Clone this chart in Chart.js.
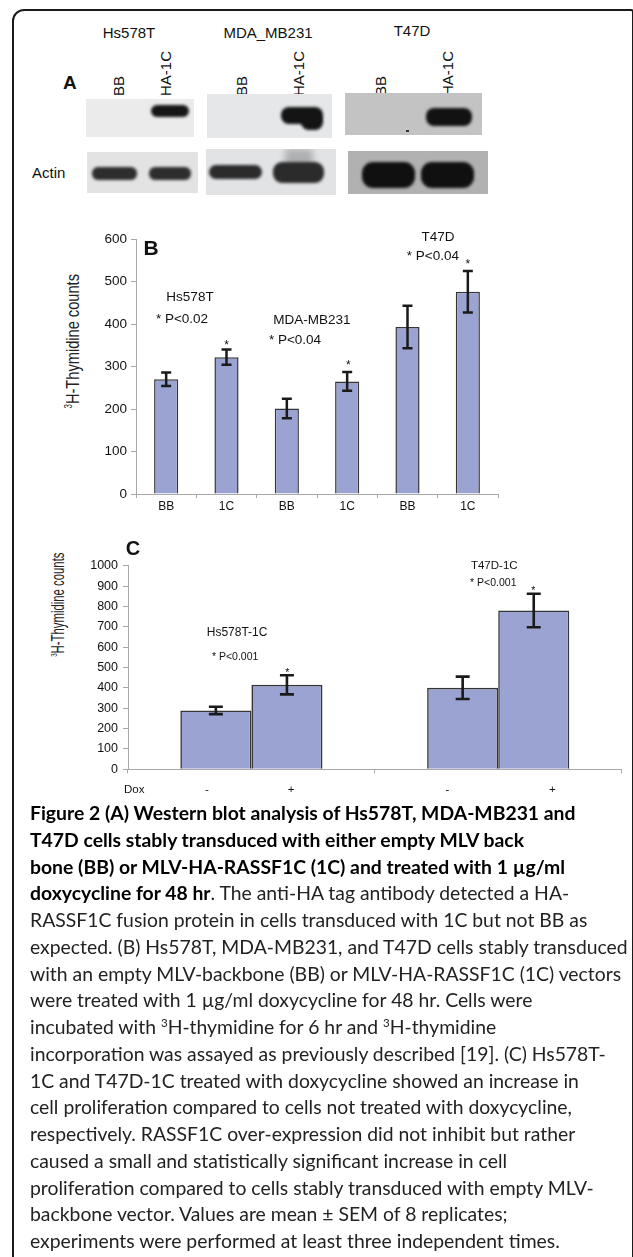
<!DOCTYPE html>
<html><head><meta charset="utf-8">
<script src="https://cdn.jsdelivr.net/npm/chart.js@4.4.0/dist/chart.umd.min.js"></script>
<style>
html,body{margin:0;padding:0;background:#fff;}
body{width:633px;height:1257px;position:relative;overflow:hidden;font-family:"Liberation Sans",Arial,sans-serif;color:#111;}
#frame{position:absolute;left:12px;top:9px;width:622px;height:1320px;border:2px solid #1a1a1a;border-top-left-radius:12px;border-top-right-radius:3px;box-sizing:border-box;}
.lbl{position:absolute;font-size:15px;line-height:18px;white-space:nowrap;text-align:center;width:200px;}
.rot{position:absolute;font-size:15px;line-height:16px;height:16px;transform-origin:0 0;transform:rotate(-90deg);white-space:nowrap;}
.blot{position:absolute;overflow:hidden;}
.band{position:absolute;filter:blur(1.6px);}
.ytitle{position:absolute;width:220px;text-align:center;transform-origin:0 0;white-space:nowrap;font-family:"Liberation Sans",Arial,sans-serif;color:#222;}
.ytitle sup{font-size:55%;vertical-align:super;line-height:0;}
canvas{position:absolute;left:0;}
#caption{position:absolute;left:30px;top:800px;font-family:"Lato",sans-serif;color:#222;}
#caption div{white-space:nowrap;height:26.75px;line-height:26.75px;}
#caption b{color:#000;}
#caption sup{font-size:60%;line-height:0;vertical-align:super;}
</style>
</head><body>
<div id="frame"></div>

<!-- Panel A: western blots -->
<div class="lbl" style="left:29px;top:24px;">Hs578T</div>
<div class="lbl" style="left:168px;top:24px;">MDA_MB231</div>
<div class="lbl" style="left:312px;top:22px;">T47D</div>
<div style="position:absolute;left:63px;top:72px;font-size:19px;font-weight:bold;">A</div>
<div class="rot" style="left:111px;top:96px;">BB</div>
<div class="rot" style="left:158px;top:96px;">HA-1C</div>
<div class="rot" style="left:234px;top:96px;">BB</div>
<div class="rot" style="left:291px;top:96px;">HA-1C</div>
<div class="rot" style="left:373px;top:96px;">BB</div>
<div class="rot" style="left:440px;top:96px;">HA-1C</div>
<div style="position:absolute;left:32px;top:164px;font-size:15px;line-height:18px;">Actin</div>

<div class="blot" style="left:86px;top:99px;width:108px;height:38px;background:#ebebeb;">
  <div class="band" style="left:65px;top:6px;width:38px;height:12px;background:#151515;border-radius:6px;"></div>
</div>
<div class="blot" style="left:207px;top:94px;width:125px;height:44px;background:#e5e7e9;">
  <div class="band" style="left:74px;top:13px;width:42px;height:17px;background:#141414;border-radius:8px;"></div>
  <div class="band" style="left:94px;top:20px;width:22px;height:16px;background:#141414;border-radius:8px;"></div>
</div>
<div class="blot" style="left:345px;top:93px;width:137px;height:42px;background:#c3c3c3;">
  <div class="band" style="left:81px;top:15px;width:46px;height:18px;background:#121212;border-radius:8px;"></div>
  <div class="band" style="left:61px;top:37px;width:3px;height:2px;background:#333;filter:none;"></div>
</div>
<div class="blot" style="left:87px;top:152px;width:111px;height:41px;background:#e3e3e3;">
  <div class="band" style="left:5px;top:15px;width:45px;height:13px;background:#2d2d2d;border-radius:6px;"></div>
  <div class="band" style="left:62px;top:15px;width:42px;height:13px;background:#2d2d2d;border-radius:6px;"></div>
</div>
<div class="blot" style="left:206px;top:149px;width:130px;height:46px;background:#e1e3e5;">
  <div class="band" style="left:79px;top:0px;width:28px;height:18px;background:rgba(60,60,60,0.3);filter:blur(3px);"></div>
  <div class="band" style="left:3px;top:16px;width:53px;height:14px;background:#2b2b2b;border-radius:7px;"></div>
  <div class="band" style="left:67px;top:13px;width:51px;height:21px;background:#2b2b2b;border-radius:9px;"></div>
</div>
<div class="blot" style="left:348px;top:151px;width:140px;height:43px;background:#b1b1b1;">
  <div class="band" style="left:14px;top:11px;width:53px;height:26px;background:#101010;border-radius:11px;"></div>
  <div class="band" style="left:73px;top:11px;width:53px;height:26px;background:#101010;border-radius:11px;"></div>
</div>

<!-- Y axis titles -->
<div class="ytitle" style="left:63px;top:426px;font-size:19px;line-height:19px;height:19px;transform:rotate(-90deg) scaleX(0.77);"><sup>3</sup>H-Thymidine counts</div>
<div class="ytitle" style="left:48.7px;top:674px;font-size:18px;line-height:18px;height:18px;transform:rotate(-90deg) scaleX(0.63);"><sup>3</sup>H-Thymidine counts</div>

<canvas id="chartB" width="633" height="300" style="top:220px;width:633px;height:300px;"></canvas>
<canvas id="chartC" width="633" height="270" style="top:535px;width:633px;height:270px;"></canvas>

<div id="caption">
<div><b>Figure 2 (A) Western blot analysis of Hs578T, MDA-MB231 and</b></div>
<div><b>T47D cells stably transduced with either empty MLV back</b></div>
<div><b>bone (BB) or MLV-HA-RASSF1C (1C) and treated with 1 µg/ml</b></div>
<div><b>doxycycline for 48 hr</b>. The anti-HA tag antibody detected a HA-</div>
<div>RASSF1C fusion protein in cells transduced with 1C but not BB as</div>
<div><span id="fitline">expected. (B) Hs578T, MDA-MB231, and T47D cells stably transduced</span></div>
<div>with an empty MLV-backbone (BB) or MLV-HA-RASSF1C (1C) vectors</div>
<div>were treated with 1 µg/ml doxycycline for 48 hr. Cells were</div>
<div>incubated with <sup>3</sup>H-thymidine for 6 hr and <sup>3</sup>H-thymidine</div>
<div>incorporation was assayed as previously described [19]. (C) Hs578T-</div>
<div>1C and T47D-1C treated with doxycycline showed an increase in</div>
<div>cell proliferation compared to cells not treated with doxycycline,</div>
<div>respectively. RASSF1C over-expression did not inhibit but rather</div>
<div>caused a small and statistically significant increase in cell</div>
<div>proliferation compared to cells stably transduced with empty MLV-</div>
<div>backbone vector. Values are mean ± SEM of 8 replicates;</div>
<div>experiments were performed at least three independent times.</div>
</div>

<script>
// ---------- DATA ----------
// Panel B
const bCategories = ['BB', '1C', 'BB', '1C', 'BB', '1C'];
const bValues = [270, 322, 201, 265, 393, 476];
const bErrors = [16, 18, 23, 22, 50, 49];
const bYTicks = [0, 100, 200, 300, 400, 500, 600];
// Panel C
const cGroups = ['Hs578T-1C', 'T47D-1C'];
const cNoDox = [289, 400];
const cNoDoxErr = [18, 55];
const cDox = [415, 780];
const cDoxErr = [47, 82];
const cYTicks = [0, 100, 200, 300, 400, 500, 600, 700, 800, 900, 1000];
const doxLabels = ['-', '+', '-', '+'];

// ---------- label placement (category index / axis value) ----------
const doxLabelAt = [-0.18, 0.161, 0.794, 1.219];
const FONT = '"Liberation Sans", Arial, sans-serif';

// caption sizing
(function(){
  const cap = document.getElementById('caption');
  cap.style.fontSize = '16px';
  const w = document.getElementById('fitline').getBoundingClientRect().width;
  cap.style.fontSize = (16 * 598 / w).toFixed(2) + 'px';
})();

const errPlugin = {
  id: 'errbars',
  afterDatasetsDraw(chart, args, opts) {
    const ctx = chart.ctx, ys = chart.scales.y;
    ctx.save();
    ctx.strokeStyle = '#1a1a1a';
    ctx.lineWidth = opts.width;
    chart.data.datasets.forEach((ds, di) => {
      const meta = chart.getDatasetMeta(di);
      meta.data.forEach((bar, i) => {
        const v = ds.data[i], e = ds.errors[i];
        const yt = ys.getPixelForValue(v + e), yb = ys.getPixelForValue(v - e);
        ctx.beginPath();
        ctx.moveTo(bar.x, yt); ctx.lineTo(bar.x, yb);
        ctx.moveTo(bar.x - opts.cap, yt); ctx.lineTo(bar.x + opts.cap, yt);
        ctx.moveTo(bar.x - opts.cap, yb); ctx.lineTo(bar.x + opts.cap, yb);
        ctx.stroke();
      });
    });
    ctx.restore();
  }
};

const annotPlugin = {
  id: 'annot',
  afterDraw(chart, args, opts) {
    const ctx = chart.ctx, xs = chart.scales.x, ys = chart.scales.y;
    ctx.save();
    const items = opts.items || [];
    for (let k = 0; k < items.length; k++) {
      const it = items[k];
      ctx.font = it.font;
      ctx.fillStyle = it.color || '#111';
      ctx.textAlign = it.align || 'center';
      ctx.textBaseline = 'middle';
      const px = xs.getPixelForValue(it.x);
      const py = (it.below !== undefined) ? chart.chartArea.bottom + it.below : ys.getPixelForValue(it.y);
      ctx.fillText(it.text, px, py);
    }
    ctx.restore();
  }
};

const axisGray = '#a8a8a8';
const barFill = '#9ba3d3';
const barEdge = '#363636';

// ---------- Chart B ----------
new Chart(document.getElementById('chartB'), {
  type: 'bar',
  data: {
    labels: bCategories,
    datasets: [{
      data: bValues, errors: bErrors,
      backgroundColor: barFill, borderColor: barEdge, borderWidth: 1.5,
      barPercentage: 0.4, categoryPercentage: 1
    }]
  },
  options: {
    responsive: false, animation: false, devicePixelRatio: 1,
    layout: { padding: { top: 19, right: 135, left: 0, bottom: 0 } },
    plugins: {
      legend: { display: false }, tooltip: { enabled: false },
      errbars: { width: 2.5, cap: 5 },
      annot: { items: [
        { text: 'B', x: -0.25, y: 575, font: 'bold 21px ' + FONT, color: '#111' },
        { text: 'Hs578T', x: 0.395, y: 463, font: '13.5px ' + FONT },
        { text: '* P<0.02', x: 0.262, y: 412, font: '13.5px ' + FONT },
        { text: '*', x: 1, y: 350, font: '12px ' + FONT },
        { text: 'MDA-MB231', x: 2.417, y: 409, font: '13.5px ' + FONT },
        { text: '* P<0.04', x: 2.136, y: 362, font: '13.5px ' + FONT },
        { text: '*', x: 3.02, y: 301, font: '12px ' + FONT },
        { text: 'T47D', x: 4.506, y: 605, font: '13.5px ' + FONT },
        { text: '* P<0.04', x: 4.42, y: 560, font: '13.5px ' + FONT },
        { text: '*', x: 5, y: 539, font: '12px ' + FONT }
      ] }
    },
    scales: {
      x: {
        grid: { display: true, drawOnChartArea: false, drawTicks: true, tickLength: 4, color: axisGray, offset: true },
        border: { display: true, color: axisGray, width: 1 },
        ticks: { color: '#111', font: { size: 12, family: FONT }, padding: 1, maxRotation: 0 },
        afterFit(s) { s.height = 26; }
      },
      y: {
        min: 0, max: 600,
        afterBuildTicks(s) { s.ticks = bYTicks.map(v => ({ value: v })); },
        grid: { display: true, drawOnChartArea: false, drawTicks: true, tickLength: 5, color: axisGray },
        border: { display: true, color: axisGray, width: 1 },
        ticks: { color: '#111', font: { size: 13.5, family: FONT }, padding: 4, callback: v => String(v) },
        afterFit(s) { s.width = 136; }
      }
    }
  },
  plugins: [errPlugin, annotPlugin]
});

// ---------- Chart C ----------
const cItems = [
  { text: 'C', x: -0.48, y: 1080, font: 'bold 20px ' + FONT },
  { text: 'Hs578T-1C', x: -0.058, y: 670, font: '12px ' + FONT },
  { text: '* P<0.001', x: -0.066, y: 552, font: '10.5px ' + FONT },
  { text: '*', x: 0.145, y: 473, font: '10.5px ' + FONT },
  { text: 'T47D-1C', x: 0.984, y: 998, font: '11.5px ' + FONT },
  { text: '* P<0.001', x: 0.98, y: 915, font: '10.5px ' + FONT },
  { text: '*', x: 1.142, y: 875, font: '10.5px ' + FONT },
  { text: 'Dox', x: -0.516, below: 21, align: 'left', font: '11.5px ' + FONT }
];
doxLabels.forEach((t, i) => cItems.push({ text: t, x: doxLabelAt[i], below: 21, font: '11.5px ' + FONT }));

new Chart(document.getElementById('chartC'), {
  type: 'bar',
  data: {
    labels: cGroups,
    datasets: [
      { data: cNoDox, errors: cNoDoxErr, backgroundColor: barFill, borderColor: barEdge, borderWidth: 1.6,
        barPercentage: 1, categoryPercentage: 0.576 },
      { data: cDox, errors: cDoxErr, backgroundColor: barFill, borderColor: barEdge, borderWidth: 1.6,
        barPercentage: 1, categoryPercentage: 0.576 }
    ]
  },
  options: {
    responsive: false, animation: false, devicePixelRatio: 1,
    layout: { padding: { top: 30.7, right: 11.4, left: 0, bottom: 0 } },
    plugins: {
      legend: { display: false }, tooltip: { enabled: false },
      errbars: { width: 2.6, cap: 7 },
      annot: { items: cItems }
    },
    scales: {
      x: {
        grid: { display: true, drawOnChartArea: false, drawTicks: true, tickLength: 4, color: axisGray, offset: true },
        border: { display: true, color: axisGray, width: 1 },
        ticks: { callback: () => '', font: { size: 10, family: FONT } },
        afterFit(s) { s.height = 35.7; }
      },
      y: {
        min: 0, max: 1000,
        afterBuildTicks(s) { s.ticks = cYTicks.map(v => ({ value: v })); },
        grid: { display: true, drawOnChartArea: false, drawTicks: true, tickLength: 5, color: axisGray },
        border: { display: true, color: axisGray, width: 1 },
        ticks: { color: '#111', font: { size: 12.5, family: FONT }, padding: 5, callback: v => String(v) },
        afterFit(s) { s.width = 128; }
      }
    }
  },
  plugins: [errPlugin, annotPlugin]
});
</script>
</body></html>
